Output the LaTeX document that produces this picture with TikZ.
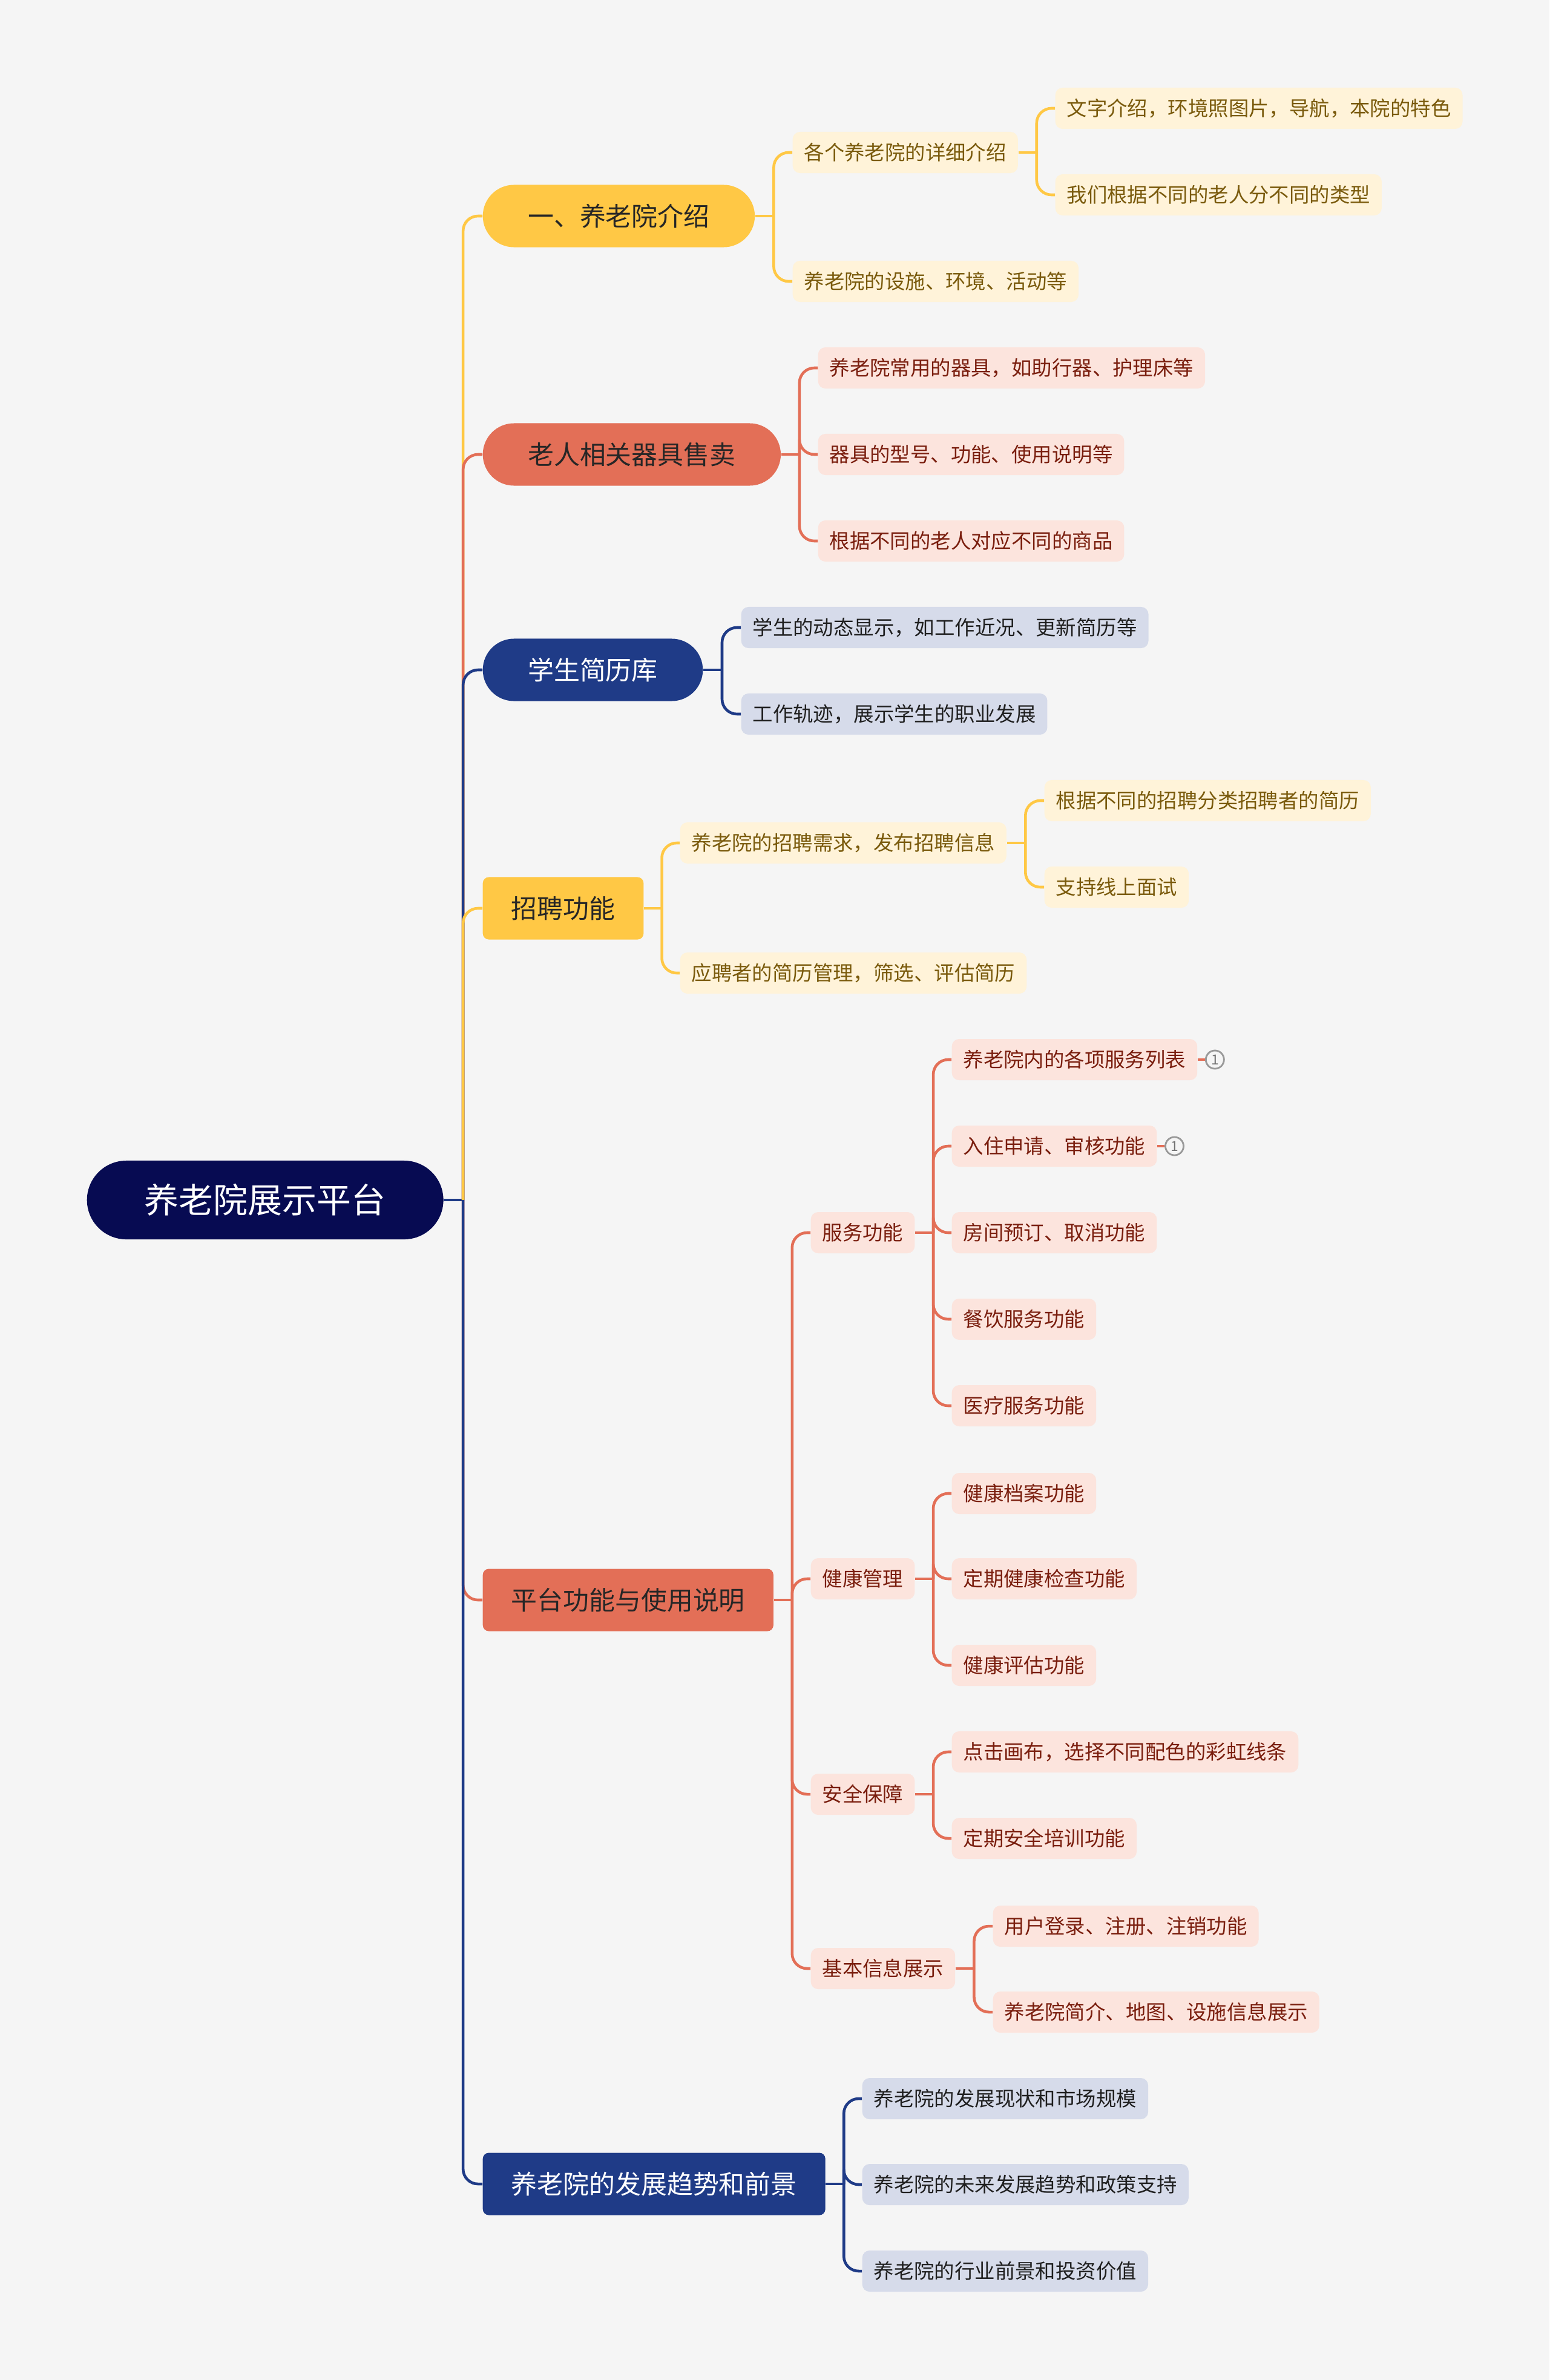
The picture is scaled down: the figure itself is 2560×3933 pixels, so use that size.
\documentclass[tikz,border=0pt]{standalone}
\usepackage{fontspec}
\setmainfont{Noto Sans CJK SC}
\usetikzlibrary{calc, positioning}

\definecolor{paper}{HTML}{F5F5F5}
\definecolor{night}{HTML}{070B52}
\definecolor{sun}{HTML}{FFC845}
\definecolor{coral}{HTML}{E36F57}
\definecolor{ink}{HTML}{1F3B87}
\definecolor{sunpale}{HTML}{FFF3D9}
\definecolor{coralpale}{HTML}{FCE4DD}
\definecolor{inkpale}{HTML}{D6DBEA}
\definecolor{suntext}{HTML}{7A5A0C}
\definecolor{coraltext}{HTML}{7A1E0E}

\tikzset{
  link/.style={line width=1.3pt, rounded corners=7pt},
  root/.style={anchor=west, fill=night, text=white, rounded corners=0.65cm,
    minimum height=1.3cm, inner xsep=0.95cm, font=\fontsize{16.2}{18}\selectfont},
  pill/.style={anchor=west, rounded corners=0.515cm, minimum height=1.03cm,
    inner xsep=0.745cm, font=\fontsize{12.2}{14}\selectfont},
  topic/.style={anchor=west, rounded corners=0.1cm, minimum height=1.03cm,
    inner xsep=0.47cm, font=\fontsize{12.2}{14}\selectfont},
  leaf/.style={anchor=west, rounded corners=0.12cm, minimum height=0.68cm,
    inner xsep=0.19cm, font=\fontsize{9.5}{11}\selectfont},
  sunfill/.style={fill=sun, text=black!85},
  coralfill/.style={fill=coral, text=black!85},
  inkfill/.style={fill=ink, text=white},
  sunleaf/.style={leaf, fill=sunpale, text=suntext},
  coralleaf/.style={leaf, fill=coralpale, text=coraltext},
  inkleaf/.style={leaf, fill=inkpale, text=black!88},
  badge/.style={circle, draw=black!40, fill=paper, line width=0.8pt, inner sep=0pt,
    minimum size=0.3cm, text=black!55, font=\fontsize{6.5}{7}\selectfont}
}

% parent, colour, children
\newcommand\forkto[3]{%
  \foreach \kid [count=\k] in {#3}{%
    \ifnum\k=1 \coordinate (#1-j) at ($(#1.east)!0.5!(#1.east -| \kid.west)$);\fi
    \draw[link, #2] (#1-j) |- (\kid.west);}
  \draw[link, #2] (#1.east) -- (#1-j);}

\begin{document}
\begin{tikzpicture}[x=0.01cm, y=-0.01cm]
  \fill[paper] (0,0) rectangle (2560,3933);
  \useasboundingbox (0,0) rectangle (2560,3933);

  \node[root] (root) at (143,1983) {养老院展示平台};

  \node[pill, sunfill] (intro) at (797,357) {一、养老院介绍};
  \node[pill, coralfill] (goods) at (797,751) {老人相关器具售卖};
  \node[pill, inkfill] (resume) at (797,1107) {学生简历库};
  \node[topic, sunfill] (hire) at (797,1501) {招聘功能};
  \node[topic, coralfill] (usage) at (797,2644) {平台功能与使用说明};
  \node[topic, inkfill] (trend) at (797,3609) {养老院的发展趋势和前景};

  % trunk
  \coordinate (root-j) at ($(root.east)!0.5!(root.east -| intro.west)$);
  \draw[link, ink] (root.east) -- (root-j);
  \foreach \b/\c in {intro/sun, goods/coral, resume/ink, hire/sun, usage/coral, trend/ink}
    \draw[link, \c] (root-j) |- (\b.west);

  % intro
  \node[sunleaf] (intro-a) at (1309,252) {各个养老院的详细介绍};
  \node[sunleaf] (intro-b) at (1309,465) {养老院的设施、环境、活动等};
  \node[sunleaf] (intro-a1) at (1743,179) {文字介绍，环境照图片，导航，本院的特色};
  \node[sunleaf] (intro-a2) at (1743,322) {我们根据不同的老人分不同的类型};
  \forkto{intro}{sun}{intro-a, intro-b}
  \forkto{intro-a}{sun}{intro-a1, intro-a2}

  % goods
  \node[coralleaf] (goods-a) at (1351,608) {养老院常用的器具，如助行器、护理床等};
  \node[coralleaf] (goods-b) at (1351,751) {器具的型号、功能、使用说明等};
  \node[coralleaf] (goods-c) at (1351,894) {根据不同的老人对应不同的商品};
  \forkto{goods}{coral}{goods-a, goods-b, goods-c}

  % resume
  \node[inkleaf] (resume-a) at (1224,1037) {学生的动态显示，如工作近况、更新简历等};
  \node[inkleaf] (resume-b) at (1224,1180) {工作轨迹，展示学生的职业发展};
  \forkto{resume}{ink}{resume-a, resume-b}

  % hire
  \node[sunleaf] (hire-a) at (1123,1393) {养老院的招聘需求，发布招聘信息};
  \node[sunleaf] (hire-b) at (1123,1608) {应聘者的简历管理，筛选、评估简历};
  \node[sunleaf] (hire-a1) at (1725,1323) {根据不同的招聘分类招聘者的简历};
  \node[sunleaf] (hire-a2) at (1725,1466) {支持线上面试};
  \forkto{hire}{sun}{hire-a, hire-b}
  \forkto{hire-a}{sun}{hire-a1, hire-a2}

  % usage
  \node[coralleaf] (usage-a) at (1339,2037) {服务功能};
  \node[coralleaf] (usage-b) at (1339,2609) {健康管理};
  \node[coralleaf] (usage-c) at (1339,2965) {安全保障};
  \node[coralleaf] (usage-d) at (1339,3253) {基本信息展示};
  \forkto{usage}{coral}{usage-a, usage-b, usage-c, usage-d}

  \node[coralleaf] (usage-a1) at (1572,1751) {养老院内的各项服务列表};
  \node[coralleaf] (usage-a2) at (1572,1894) {入住申请、审核功能};
  \node[coralleaf] (usage-a3) at (1572,2037) {房间预订、取消功能};
  \node[coralleaf] (usage-a4) at (1572,2180) {餐饮服务功能};
  \node[coralleaf] (usage-a5) at (1572,2323) {医疗服务功能};
  \forkto{usage-a}{coral}{usage-a1, usage-a2, usage-a3, usage-a4, usage-a5}

  \node[badge, right=0.12cm of usage-a1] (usage-a1-n) {1};
  \node[badge, right=0.12cm of usage-a2] (usage-a2-n) {1};
  \draw[link, coral] (usage-a1) -- (usage-a1-n);
  \draw[link, coral] (usage-a2) -- (usage-a2-n);

  \node[coralleaf] (usage-b1) at (1572,2468) {健康档案功能};
  \node[coralleaf] (usage-b2) at (1572,2609) {定期健康检查功能};
  \node[coralleaf] (usage-b3) at (1572,2752) {健康评估功能};
  \forkto{usage-b}{coral}{usage-b1, usage-b2, usage-b3}

  \node[coralleaf] (usage-c1) at (1572,2895) {点击画布，选择不同配色的彩虹线条};
  \node[coralleaf] (usage-c2) at (1572,3038) {定期安全培训功能};
  \forkto{usage-c}{coral}{usage-c1, usage-c2}

  \node[coralleaf] (usage-d1) at (1640,3183) {用户登录、注册、注销功能};
  \node[coralleaf] (usage-d2) at (1640,3325) {养老院简介、地图、设施信息展示};
  \forkto{usage-d}{coral}{usage-d1, usage-d2}

  % trend
  \node[inkleaf] (trend-a) at (1424,3468) {养老院的发展现状和市场规模};
  \node[inkleaf] (trend-b) at (1424,3610) {养老院的未来发展趋势和政策支持};
  \node[inkleaf] (trend-c) at (1424,3753) {养老院的行业前景和投资价值};
  \forkto{trend}{ink}{trend-a, trend-b, trend-c}
\end{tikzpicture}
\end{document}
